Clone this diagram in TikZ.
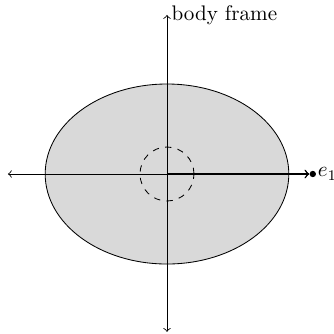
\documentclass[tikz,border=0pt]{standalone}
\usepackage{amsmath,amssymb}
\usetikzlibrary{positioning}

\begin{document}
\begin{tikzpicture}[
  axis/.style={<->},
  body/.style={draw,fill=gray!30},
  vec/.style={->,semithick},
  pt/.style={circle,fill,inner sep=0pt,minimum size=3pt}
]
  \useasboundingbox (-2.783,-2.65) rectangle (2.783,2.9);

  \coordinate (O) at (0,0);
  \coordinate (left)   at (-2.65,0);
  \coordinate (top)    at (0,2.65);
  \coordinate (bottom) at (0,-2.63);

  % body
  \draw[body] (O) ellipse (2.03cm and 1.5cm);
  \draw[dashed] (O) circle (0.45cm);

  % axes
  \node[pt] (e1) at (2.43,0) {};
  \node[right=0pt of e1,inner sep=0.5pt] (e1lbl) {$e_1$};
  \draw[axis] (left) -- (e1.west);
  \draw[axis] (bottom) -- (top);
  \draw[vec] (O) -- (e1.west);
  \node[right,inner sep=2pt] (frame) at (top) {body frame};
\end{tikzpicture}
\end{document}
